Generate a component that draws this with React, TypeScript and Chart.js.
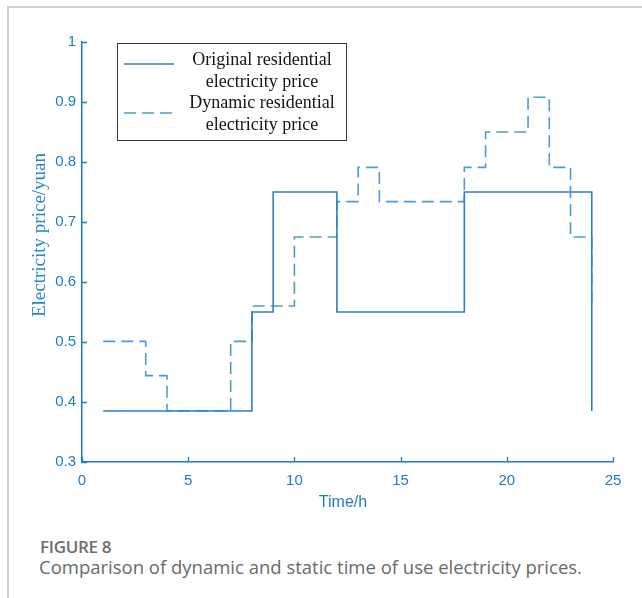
import { useEffect, useRef } from "react";
import { Chart, registerables } from "chart.js";

Chart.register(...registerables);

// Hour of day (stairs start at each hour)
const hours = [1, 2, 3, 4, 5, 6, 7, 8, 9, 10, 11, 12, 13, 14, 15, 16, 17, 18, 19, 20, 21, 22, 23, 24];

// Static time-of-use price (yuan)
const originalPrice = [
  0.385, 0.385, 0.385, 0.385, 0.385, 0.385, 0.385, 0.55, 0.75, 0.75, 0.75, 0.55,
  0.55, 0.55, 0.55, 0.55, 0.55, 0.75, 0.75, 0.75, 0.75, 0.75, 0.75, 0.385,
];

// Dynamic time-of-use price (yuan)
const dynamicPrice = [
  0.501, 0.501, 0.444, 0.385, 0.385, 0.385, 0.501, 0.56, 0.56, 0.675, 0.675, 0.734,
  0.791, 0.734, 0.734, 0.734, 0.734, 0.791, 0.85, 0.85, 0.908, 0.791, 0.675, 0.56,
];

const xTicks = [0, 5, 10, 15, 20, 25];
const yTicks = [0.3, 0.4, 0.5, 0.6, 0.7, 0.8, 0.9, 1];

const seriesNames = [
  ["Original residential", "electricity price"],
  ["Dynamic residential", "electricity price"],
];
const xTitle = "Time/h";
const yTitle = "Electricity price/yuan";
const captionLabel = "FIGURE 8";
const captionText = "Comparison of dynamic and static time of use electricity prices.";

const AXIS_BLUE = "#1f7bc8";
const SOLID_BLUE = "#2a80cc";
const DASH_BLUE = "#4d9ad6";
const SERIF = "'Liberation Serif', 'Times New Roman', serif";
const SANS = "'Liberation Sans', Arial, sans-serif";

// Inward ticks, axis titles and the boxed legend
const decorations = {
  id: "decorations",
  afterDatasetsDraw(chart: any) {
    const { ctx, chartArea, scales } = chart;
    const { left, bottom } = chartArea;
    ctx.save();

    // inward tick marks
    ctx.strokeStyle = AXIS_BLUE;
    ctx.lineWidth = 1.3;
    ctx.beginPath();
    for (const v of yTicks) {
      const y = Math.round(scales.y.getPixelForValue(v)) + 0.5;
      ctx.moveTo(left, y);
      ctx.lineTo(left + 5, y);
    }
    for (const v of xTicks) {
      const x = Math.round(scales.x.getPixelForValue(v)) + 0.5;
      ctx.moveTo(x, bottom);
      ctx.lineTo(x, bottom - 5);
    }
    ctx.stroke();

    // axis titles
    ctx.fillStyle = "#2a86d0";
    ctx.font = `19px ${SERIF}`;
    ctx.textAlign = "center";
    ctx.textBaseline = "middle";
    ctx.save();
    ctx.translate(40, 235);
    ctx.rotate(-Math.PI / 2);
    ctx.fillText(yTitle, 0, 0);
    ctx.restore();

    ctx.fillStyle = AXIS_BLUE;
    ctx.font = `16px ${SANS}`;
    ctx.fillText(xTitle, 343, 503);

    // legend box
    const bx = 117.5;
    const by = 43.5;
    const bw = 229;
    const bh = 97;
    ctx.fillStyle = "#ffffff";
    ctx.fillRect(bx, by, bw, bh);
    ctx.strokeStyle = "#3a3a3a";
    ctx.lineWidth = 1;
    ctx.strokeRect(bx, by, bw, bh);

    const sampleY = [64, 113];
    const styles = [
      { color: SOLID_BLUE, dash: [] as number[] },
      { color: DASH_BLUE, dash: [12, 6] },
    ];
    styles.forEach((s, i) => {
      ctx.strokeStyle = s.color;
      ctx.lineWidth = 1.5;
      ctx.setLineDash(s.dash);
      ctx.beginPath();
      ctx.moveTo(124, sampleY[i]);
      ctx.lineTo(174, sampleY[i]);
      ctx.stroke();
    });
    ctx.setLineDash([]);

    ctx.fillStyle = "#151515";
    ctx.font = `18px ${SERIF}`;
    ctx.textAlign = "center";
    const lineY = [60, 82, 103, 125];
    seriesNames.flat().forEach((t, i) => ctx.fillText(t, 262, lineY[i]));

    ctx.restore();
  },
};

function PriceChart() {
  const ref = useRef<HTMLCanvasElement | null>(null);

  useEffect(() => {
    if (!ref.current) return;
    const chart = new Chart(ref.current, {
      type: "line",
      data: {
        datasets: [
          {
            label: seriesNames[0].join(" "),
            data: hours.map((h, i) => ({ x: h, y: originalPrice[i] })),
            stepped: true,
            borderColor: SOLID_BLUE,
            borderWidth: 1.6,
            pointRadius: 0,
            fill: false,
          },
          {
            label: seriesNames[1].join(" "),
            data: hours.map((h, i) => ({ x: h, y: dynamicPrice[i] })),
            stepped: true,
            borderColor: DASH_BLUE,
            borderWidth: 1.6,
            borderDash: [12, 6],
            pointRadius: 0,
            fill: false,
          },
        ],
      },
      options: {
        animation: false,
        responsive: false,
        maintainAspectRatio: false,
        layout: { padding: { left: 0, top: 42, right: 29, bottom: 0 } },
        plugins: {
          legend: { display: false },
          tooltip: { enabled: false },
          title: { display: false },
        },
        scales: {
          x: {
            type: "linear",
            min: 0,
            max: 25,
            afterBuildTicks: (s: any) => {
              s.ticks = xTicks.map((v) => ({ value: v }));
            },
            afterFit: (s: any) => {
              s.height = 58;
            },
            grid: { display: true, drawOnChartArea: false, drawTicks: false },
            border: { display: true, color: AXIS_BLUE, width: 1.5 },
            ticks: {
              color: AXIS_BLUE,
              font: { family: SANS, size: 15 },
              padding: 10,
              maxRotation: 0,
              autoSkip: false,
            },
          },
          y: {
            type: "linear",
            min: 0.3,
            max: 1,
            afterBuildTicks: (s: any) => {
              s.ticks = yTicks.map((v) => ({ value: v }));
            },
            afterFit: (s: any) => {
              s.width = 82;
            },
            grid: { display: true, drawOnChartArea: false, drawTicks: false },
            border: { display: true, color: AXIS_BLUE, width: 1.5 },
            ticks: {
              color: AXIS_BLUE,
              font: { family: SANS, size: 15 },
              padding: 6,
              autoSkip: false,
              callback: (v: any) => String(Math.round(Number(v) * 10) / 10),
            },
          },
        },
      },
      plugins: [decorations],
    });
    return () => chart.destroy();
  }, []);

  return (
    <canvas
      ref={ref}
      width={642}
      height={520}
      style={{ position: "absolute", left: 0, top: 0, width: 642, height: 520 }}
    />
  );
}

export default function App() {
  return (
    <div
      style={{
        position: "fixed",
        left: 0,
        top: 0,
        width: 642,
        height: 598,
        background: "#ffffff",
        overflow: "hidden",
      }}
    >
      <div
        style={{
          position: "absolute",
          left: 7,
          top: 6,
          width: 700,
          height: 700,
          borderTop: "2px solid #cfcfcf",
          borderLeft: "2px solid #cfcfcf",
        }}
      />
      <PriceChart />
      <div
        style={{
          position: "absolute",
          left: 40,
          top: 537,
          fontFamily: "'Open Sans', sans-serif",
          fontWeight: 600,
          fontSize: 17,
          color: "#6e6e6e",
          lineHeight: "20px",
          letterSpacing: -0.3,
        }}
      >
        {captionLabel}
      </div>
      <div
        style={{
          position: "absolute",
          left: 39,
          top: 555,
          fontFamily: "'Open Sans', sans-serif",
          fontWeight: 400,
          fontSize: 18.5,
          color: "#6a6a6a",
          lineHeight: "24px",
          whiteSpace: "nowrap",
        }}
      >
        {captionText}
      </div>
    </div>
  );
}
